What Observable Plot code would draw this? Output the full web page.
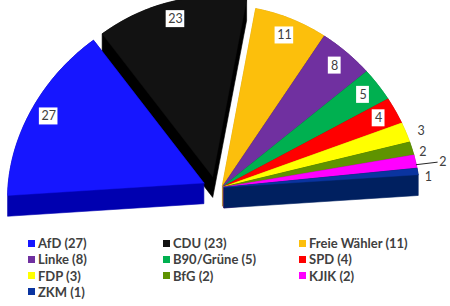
<!DOCTYPE html>
<html><head><meta charset="utf-8">
<script src="https://cdn.jsdelivr.net/npm/d3@7"></script>
<script src="https://cdn.jsdelivr.net/npm/@observablehq/plot@0.6"></script>
<style>
body{margin:0;background:#fff;}
#wrap{position:relative;width:450px;height:306px;overflow:hidden;background:#fff;}
#legend{position:absolute;left:0;top:0;width:450px;height:306px;pointer-events:none;font-family:Lato,"Open Sans",sans-serif;font-weight:700;font-size:13px;color:#404040;}
.item{position:absolute;display:flex;align-items:center;white-space:nowrap;height:16px;line-height:16px;}
.sw{width:7px;height:7px;margin-right:3px;flex:none;}
</style></head><body><div id="wrap"></div>
<script>
// ---- data ----
const parties = ["AfD","CDU","Freie Wähler","Linke","B90/Grüne","SPD","FDP","BfG","KJIK","ZKM"];
const seats = [27,23,11,8,5,4,3,2,2,1];
const colors = ["#1616ff","#121212","#fcbf0c","#7030a0","#00b050","#ff0000","#ffff00","#5f9300","#ff00ff","#0a34a0"];
const sideColors = ["#0000b0","#000000","#d9a200","#55207f","#008a3d","#c00000","#cccc00","#466e00","#c000c0","#002060"];

// ---- layout/style settings ----
const ROT = 4, PERSP = 0.08, DEPTH = 0.115, GAP = 0.012;
const explodeVec = {"AfD": [-0.09, 0.025], "CDU": [-0.045, 0.06]};
const labelNudge = {"FDP": [-0.8, 1.08], "BfG": [-1.7, 1.05], "KJIK": [-1.0, 1.14], "ZKM": [-2, 1.05]};
const xRange = [25, 417], yRange = [187, 7];
const ux = 2 / (xRange[1] - xRange[0]), uy = 1 / (yRange[0] - yRange[1]);
const rad = Math.PI / 180;

function proj(X, Z, h = 0) { const s = 1 - PERSP * Z; return [X * s, Z - h]; }

const total = d3.sum(seats);
let cum = 0;
const slices = parties.map((p, i) => {
  const a0 = 180 - cum * 180 / total; cum += seats[i];
  const a1 = 180 - cum * 180 / total;
  const mid = (a0 + a1) / 2 + ROT;
  const [ox, oz] = explodeVec[p] || [GAP * Math.cos(mid * rad), GAP * Math.sin(mid * rad)];
  const world = (r, a) => [r * Math.cos((a + ROT) * rad) + ox, r * Math.sin((a + ROT) * rad) + oz];
  const n = Math.max(2, Math.ceil((a0 - a1) / 1));
  const ring = [[ox, oz]];
  for (let k = 0; k <= n; k++) ring.push(world(1, a0 + (a1 - a0) * k / n));
  const top = ring.map(([X, Z]) => proj(X, Z));
  const bottom = ring.map(([X, Z]) => proj(X, Z, DEPTH));
  const hull = d3.polygonHull(top.concat(bottom));
  hull.push(hull[0]);
  top.push(top[0]);
  return {p, i, a0, a1, mid, ox, oz, world, top, hull, seats: seats[i]};
});

const order = slices.slice().sort((a, b) => Math.sin(b.mid * rad) - Math.sin(a.mid * rad));
const marks = [];
for (const s of order) {
  const H = s.hull.map(d => ({x: d[0], y: d[1]}));
  const T = s.top.map(d => ({x: d[0], y: d[1]}));
  marks.push(Plot.line(H, {x: "x", y: "y", fill: sideColors[s.i], stroke: sideColors[s.i], strokeWidth: 0.6, curve: "linear"}));
  marks.push(Plot.line(T, {x: "x", y: "y", fill: colors[s.i], stroke: colors[s.i], strokeWidth: 0.4, curve: "linear"}));
}

// labels
const inside = [], outside = [], leaders = [];
for (const s of slices) {
  const m = (s.a0 + s.a1) / 2;
  if (s.seats >= 4) {
    const [X, Z] = s.world(0.9, m);
    const [x, y] = proj(X, Z);
    inside.push({x, y, t: String(s.seats)});
  } else {
    const [da, r] = labelNudge[s.p] || [0, 1.07];
    const [X, Z] = s.world(r, m + da);
    const [x, y] = proj(X, Z);
    outside.push({x, y, t: String(s.seats)});
    if (r > 1.1) {
      const p1 = proj(...s.world(1.0, m + da));
      const p2 = proj(...s.world(r - 0.03, m + da));
      leaders.push({x: p1[0], y: p1[1]}, {x: p2[0], y: p2[1]});
    }
  }
}
const boxes = inside.map(d => {
  const w = (5.8 * d.t.length + 7) * ux / 2, h = 17 * uy / 2;
  return {x1: d.x - w, x2: d.x + w, y1: d.y - h, y2: d.y + h};
});
marks.push(Plot.rect(boxes, {x1: "x1", x2: "x2", y1: "y1", y2: "y2", fill: "white"}));
marks.push(Plot.text(inside, {x: "x", y: "y", text: "t", fill: "#404040", fontSize: 12.5, fontFamily: "Lato, 'Open Sans', sans-serif"}));
marks.push(Plot.text(outside, {x: "x", y: "y", text: "t", fill: "#404040", fontSize: 12.5, fontFamily: "Lato, 'Open Sans', sans-serif"}));
if (leaders.length) marks.push(Plot.line(leaders, {x: "x", y: "y", stroke: "#262626", strokeWidth: 1}));

const chart = Plot.plot({
  width: 450, height: 232,
  marginTop: 0, marginRight: 0, marginBottom: 0, marginLeft: 0,
  x: {domain: [-1, 1], range: xRange, axis: null},
  y: {domain: [0, 1], range: yRange, axis: null},
  style: {background: "white", overflow: "visible"},
  marks
});
const wrap = document.getElementById("wrap");
wrap.appendChild(chart);

// legend
const legend = document.createElement("div");
legend.id = "legend";
const colX = [28, 163, 299];
parties.forEach((p, i) => {
  const it = document.createElement("div");
  it.className = "item";
  it.style.left = colX[i % 3] + "px";
  it.style.top = (243 + Math.floor(i / 3) * 16.3 - 8) + "px";
  const sw = document.createElement("span");
  sw.className = "sw"; sw.style.background = colors[i];
  const tx = document.createElement("span");
  tx.textContent = `${p} (${seats[i]})`;
  it.appendChild(sw); it.appendChild(tx);
  legend.appendChild(it);
});
wrap.appendChild(legend);
</script></body></html>
